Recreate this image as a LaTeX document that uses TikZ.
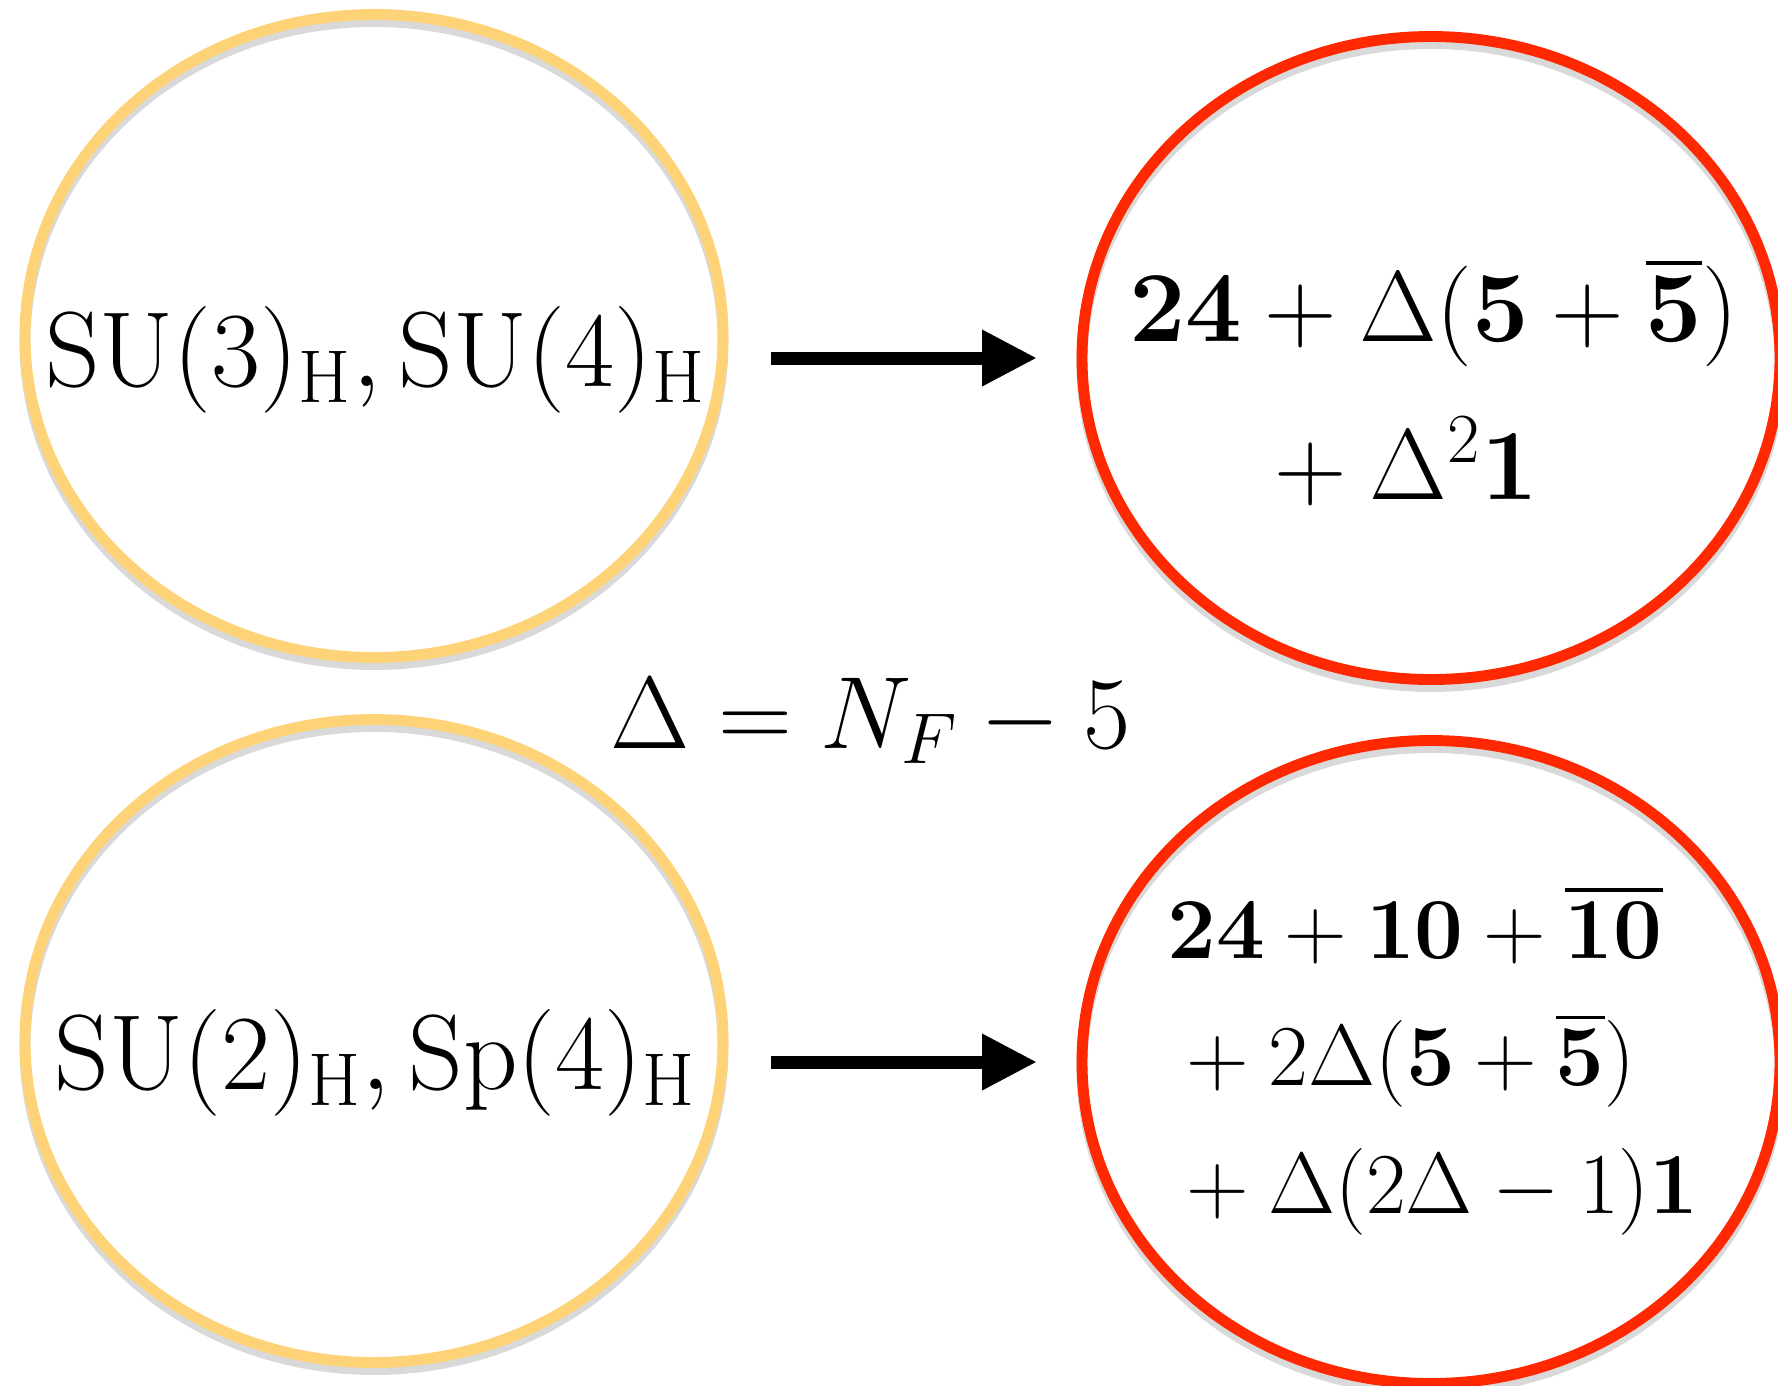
\RequirePackage{fix-cm}
\documentclass[tikz,border=0pt]{standalone}
\usepackage{xcolor}
\usepackage{amsmath,amssymb}
\usepackage{tikz}
\usetikzlibrary{arrows.meta,shapes.geometric}
\definecolor{gaugeyellow}{RGB}{254,211,119}
\definecolor{repred}{RGB}{255,40,0}

\begin{document}
\begin{tikzpicture}[
        >=Latex,
        gaugeset/.style={ellipse, draw=gaugeyellow, line width=3.1pt, minimum width=6.98cm, minimum height=6.43cm, inner sep=0pt, outer sep=0pt,
            preaction={draw=black, draw opacity=0.15, transform canvas={yshift=-0.07cm}}},
        repset/.style={gaugeset, draw=repred},
        lbl/.style={inner sep=0pt, font=\fontsize{30.4}{36}\selectfont},
        flow/.style={-{Triangle[length=0.55cm,width=0.53cm]}, line width=0.13cm, shorten <=0.48cm, shorten >=0.45cm}
    ]
        \useasboundingbox (0,0) rectangle (17.78,-13.85);
        \node[gaugeset] (g1) at (3.74,-3.36) {};
        \node[repset] (r1) at (14.31,-3.58) {};
        \node[gaugeset] (g2) at (3.74,-10.41) {};
        \node[repset] (r2) at (14.31,-10.62) {};
        \node[lbl, anchor=base] (t1) at (3.755,-3.86) {$\mathrm{SU}(3)_{\mathrm{H}},\mathrm{SU}(4)_{\mathrm{H}}$};
        \node[lbl, anchor=base, align=center, font=\fontsize{28.6}{44.7}\selectfont] (t2) at (14.335,-4.99) {$\mathbf{24}+\Delta(\mathbf{5}+\overline{\mathbf{5}})$\\ ${}+\Delta^2\mathbf{1}$\hspace*{0.77cm}};
        \node[lbl, anchor=base, font=\fontsize{29.2}{35}\selectfont] (t3) at (8.705,-7.48) {$\Delta=N_F-5$};
        \node[lbl, anchor=base] (t4) at (3.755,-10.89) {$\mathrm{SU}(2)_{\mathrm{H}},\mathrm{Sp}(4)_{\mathrm{H}}$};
        \node[lbl, anchor=base, font=\fontsize{24.7}{33.3}\selectfont] (t5) at (14.33,-9.58) {$\begin{aligned}[t]&\mathbf{24}+\mathbf{10}+\overline{\mathbf{10}}\\&+2\Delta(\mathbf{5}+\overline{\mathbf{5}})\\&+\Delta(2\Delta-1)\mathbf{1}\end{aligned}$};
        \draw[flow] (g1.east |- r1.center) -- (r1.west);
        \draw[flow] (g2.east |- r2.center) -- (r2.west);
    \end{tikzpicture}
\end{document}
